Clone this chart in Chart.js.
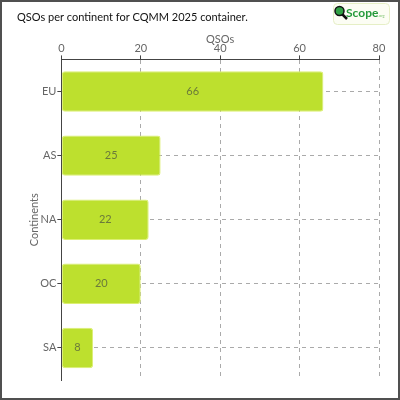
<!DOCTYPE html>
<html>
<head>
<meta charset="utf-8">
<script src="https://cdn.jsdelivr.net/npm/chart.js@4"></script>
<style>
  body { margin: 0; background: #fff; }
  #wrap { width: 400px; height: 400px; }
</style>
</head>
<body>
<div id="wrap"><canvas id="chartContinents" width="400" height="400"></canvas></div>
<script>
var continents = ['EU', 'AS', 'NA', 'OC', 'SA'];
var qsos = [66, 25, 22, 20, 8];
var xTicks = [0, 20, 40, 60, 80];
var chartTitle = 'QSOs per continent for CQMM 2025 container.';

var fontFamily = 'Lato, "DejaVu Sans", sans-serif';

// white background, frame, title and logo
var framePlugin = {
    id: 'frame',
    beforeDraw: function (chart) {
        var c = chart.ctx;
        c.save();
        c.fillStyle = '#fff';
        c.fillRect(0, 0, chart.width, chart.height);
        c.restore();
    },
    afterDraw: function (chart) {
        var c = chart.ctx;
        c.save();
        c.strokeStyle = '#505050';
        c.lineWidth = 2;
        c.strokeRect(1, 1, chart.width - 2, chart.height - 2);

        c.fillStyle = '#111';
        c.font = '11px ' + fontFamily;
        c.textBaseline = 'middle';
        c.fillText(chartTitle, 17, 17);

        // QScope logo
        c.beginPath();
        c.roundRect(333.5, 3.5, 56, 21, 4);
        c.fillStyle = '#fcfdf4';
        c.fill();
        c.strokeStyle = '#e6efc6';
        c.lineWidth = 1;
        c.stroke();
        c.beginPath();
        c.moveTo(342, 14);
        c.lineTo(347, 19);
        c.strokeStyle = '#111';
        c.lineWidth = 2.5;
        c.stroke();
        c.beginPath();
        c.arc(339.5, 11, 4.5, 0, Math.PI * 2);
        c.fillStyle = '#2fa043';
        c.fill();
        c.strokeStyle = '#111';
        c.lineWidth = 1.5;
        c.stroke();
        c.fillStyle = '#249a3a';
        c.font = 'bold 12px "Liberation Sans Narrow", ' + fontFamily;
        c.textBaseline = 'alphabetic';
        c.fillText('Scope', 346, 17);
        c.font = '4px ' + fontFamily;
        c.fillStyle = '#7cc36e';
        c.fillText('.org', 378, 17);
        c.restore();
    }
};

// value inside each bar
var barLabelPlugin = {
    id: 'barLabels',
    afterDatasetsDraw: function (chart) {
        var c = chart.ctx;
        var meta = chart.getDatasetMeta(0);
        c.save();
        c.font = '11px ' + fontFamily;
        c.fillStyle = '#6b7a3a';
        c.textAlign = 'center';
        c.textBaseline = 'middle';
        meta.data.forEach(function (bar, i) {
            c.fillText(qsos[i], (bar.x + bar.base) / 2, bar.y);
        });
        c.restore();
    }
};

var gridOpts = {
    color: '#aaa',
    tickLength: 4,
    tickBorderDash: [],
    tickColor: '#444'
};
var borderOpts = { display: true, color: '#444', width: 1, dash: [4, 4] };

var ctx = document.getElementById('chartContinents').getContext('2d');
var chart = new Chart(ctx, {
    type: 'bar',
    data: {
        labels: continents,
        datasets: [{
            label: 'QSOs',
            data: qsos,
            backgroundColor: '#bde02e',
            borderColor: '#dcef72',
            borderWidth: 1,
            borderRadius: 3,
            borderSkipped: false,
            barPercentage: 0.7,
            categoryPercentage: 0.9
        }]
    },
    options: {
        indexAxis: 'y',
        responsive: false,
        animation: false,
        layout: { padding: { left: 28, right: 21, top: 33, bottom: 20 } },
        plugins: {
            legend: { display: false },
            tooltip: { enabled: false },
            title: { display: false }
        },
        scales: {
            x: {
                position: 'top',
                min: 0,
                max: 80,
                afterBuildTicks: function (axis) {
                    axis.ticks = xTicks.map(function (v) { return { value: v }; });
                },
                title: {
                    display: true,
                    text: 'QSOs',
                    color: '#666',
                    font: { family: fontFamily, size: 11 },
                    padding: { top: 0, bottom: -4 }
                },
                ticks: { color: '#666', font: { family: fontFamily, size: 11 }, padding: 0 },
                grid: gridOpts,
                border: borderOpts
            },
            y: {
                title: {
                    display: true,
                    text: 'Continents',
                    color: '#666',
                    font: { family: fontFamily, size: 11 },
                    padding: { top: 0, bottom: -2 }
                },
                ticks: { color: '#666', font: { family: fontFamily, size: 11 }, padding: 1 },
                grid: Object.assign({ offset: false }, gridOpts),
                border: borderOpts
            }
        }
    },
    plugins: [framePlugin, barLabelPlugin]
});
</script>
</body>
</html>
